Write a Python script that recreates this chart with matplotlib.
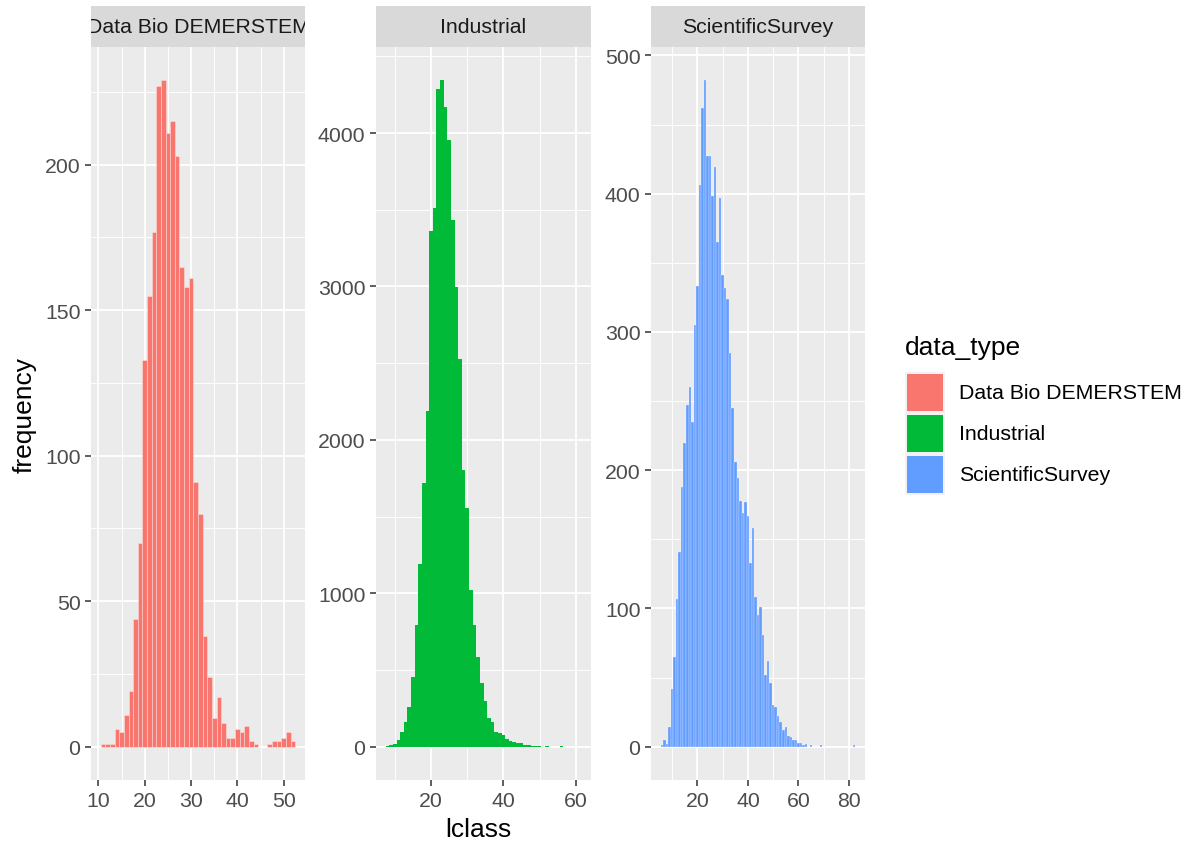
import matplotlib
matplotlib.use("Agg")
import matplotlib.pyplot as plt
from matplotlib.patches import Rectangle
from matplotlib.ticker import MultipleLocator
import numpy as np

plt.rcParams['font.family'] = ['Liberation Sans', 'DejaVu Sans']

# ---- data ----
panel_names = ["Data Bio DEMERSTEM", "Industrial", "ScientificSurvey"]
panel_colors = ["#F8766D", "#00BA38", "#619CFF"]

demersal_lclass = list(range(11, 53))
demersal_freq = [1, 1, 1, 6, 5, 11, 19, 44, 70, 133, 155, 177, 227, 229, 211, 215,
                 203, 165, 158, 161, 91, 80, 38, 24, 10, 17, 8, 3, 3, 6, 5, 7,
                 2, 1, 0, 0, 1, 2, 2, 3, 5, 2]

industrial_lclass = list(range(8, 62))
industrial_freq = [6, 8, 17, 43, 98, 163, 257, 457, 793, 1191, 1717, 2186, 3362,
                   3510, 4286, 4344, 4168, 3955, 3434, 2995, 2527, 1804, 1554, 1024,
                   793, 587, 415, 296, 185, 163, 98, 87, 76, 50, 39, 28, 22, 22,
                   13, 13, 6, 5, 5, 1, 3, 1, 0, 1, 3, 0, 1, 0, 0, 1]

survey_lclass = list(range(6, 83))
survey_freq = [1, 5, 2, 14, 42, 65, 107, 141, 188, 220, 247, 260, 235, 305, 333,
               406, 462, 482, 427, 427, 398, 419, 365, 397, 341, 332, 324, 285,
               245, 206, 194, 178, 169, 177, 167, 133, 158, 108, 95, 101, 81, 52,
               62, 46, 30, 29, 22, 18, 12, 14, 8, 7, 5, 5, 3, 3, 1, 2, 0, 1, 0,
               0, 0, 1, 0, 0, 0, 0, 0, 0, 0, 0, 0, 0, 0, 0, 1]

x_major = [10, 20, 20]
y_major = [50, 1000, 100]

legend_title = "data_type"
x_title = "lclass"
y_title = "frequency"

# ---- layout ----
W, H = 1192, 845
fig = plt.figure(figsize=(W / 100, H / 100), dpi=100)
fig.patch.set_facecolor("white")

def rect(x0, y0, x1, y1):
    return [x0 / W, 1 - y1 / H, (x1 - x0) / W, (y1 - y0) / H]

panel_x = [(91, 305), (376, 591), (651, 865)]
ptop, pbot = 48, 781
stop = 7

datasets = [(demersal_lclass, demersal_freq),
            (industrial_lclass, industrial_freq),
            (survey_lclass, survey_freq)]
seam_width = [0.4, 0.0, 0.35]

fs_small = 15.3
fs_big = 19

for i, ((x0, x1), (lc, fr)) in enumerate(zip(panel_x, datasets)):
    ax = fig.add_axes(rect(x0, ptop, x1, pbot))
    ax.set_facecolor("#EBEBEB")
    ax.bar(lc, fr, width=1.0, color=panel_colors[i],
           edgecolor=(1, 1, 1, 0.55), linewidth=seam_width[i], zorder=2)
    lc_arr = np.asarray(lc, float)
    lo, hi = lc_arr.min() - 0.5, lc_arr.max() + 0.5
    ex = 0.05 * (hi - lo)
    ax.set_xlim(lo - ex, hi + ex)
    ym = max(fr)
    ax.set_ylim(-0.05 * ym, ym * 1.05)
    ax.xaxis.set_major_locator(MultipleLocator(x_major[i]))
    ax.xaxis.set_minor_locator(MultipleLocator(x_major[i] / 2))
    ax.yaxis.set_major_locator(MultipleLocator(y_major[i]))
    ax.yaxis.set_minor_locator(MultipleLocator(y_major[i] / 2))
    ax.grid(which="major", color="white", linewidth=1.3, zorder=0)
    ax.grid(which="minor", color="white", linewidth=0.65, zorder=0)
    ax.set_axisbelow(True)
    for s in ax.spines.values():
        s.set_visible(False)
    ax.tick_params(which="major", length=4.6, width=1.1, color="#333333",
                   labelsize=fs_small, labelcolor="#4D4D4D", pad=3)
    ax.tick_params(which="minor", length=0)
    # strip
    sax = fig.add_axes(rect(x0, stop, x1, ptop))
    sax.set_facecolor("#D9D9D9")
    sax.set_xticks([])
    sax.set_yticks([])
    for s in sax.spines.values():
        s.set_visible(False)
    sax.text(0.5, 0.5, panel_names[i], ha="center", va="center",
             fontsize=fs_small, color="#1A1A1A", transform=sax.transAxes,
             clip_on=True)

# axis titles
fig.text((91 + 865) / 2 / W, 1 - 830 / H, x_title, ha="center", va="center",
         fontsize=fs_big, color="black")
fig.text(25 / W, 1 - 415 / H, y_title, ha="center", va="center",
         rotation=90, fontsize=fs_big, color="black")

# legend
fig.text(905 / W, 1 - 348 / H, legend_title, ha="left", va="center",
         fontsize=fs_big, color="black")
key_top = 373
key_h = 41
for j, (name, col) in enumerate(zip(panel_names, panel_colors)):
    ky0 = key_top + j * key_h
    fig.patches.append(Rectangle((905 / W, 1 - (ky0 + key_h) / H), 40 / W, key_h / H,
                                 transform=fig.transFigure, facecolor="#F2F2F2",
                                 edgecolor="none"))
    fig.patches.append(Rectangle((907 / W, 1 - (ky0 + key_h - 2) / H), 36 / W,
                                 (key_h - 4) / H, transform=fig.transFigure,
                                 facecolor=col, edgecolor="none"))
    fig.text(959 / W, 1 - (ky0 + key_h / 2) / H, name, ha="left", va="center",
             fontsize=fs_small, color="black")

fig.savefig("out.png", dpi=100)
